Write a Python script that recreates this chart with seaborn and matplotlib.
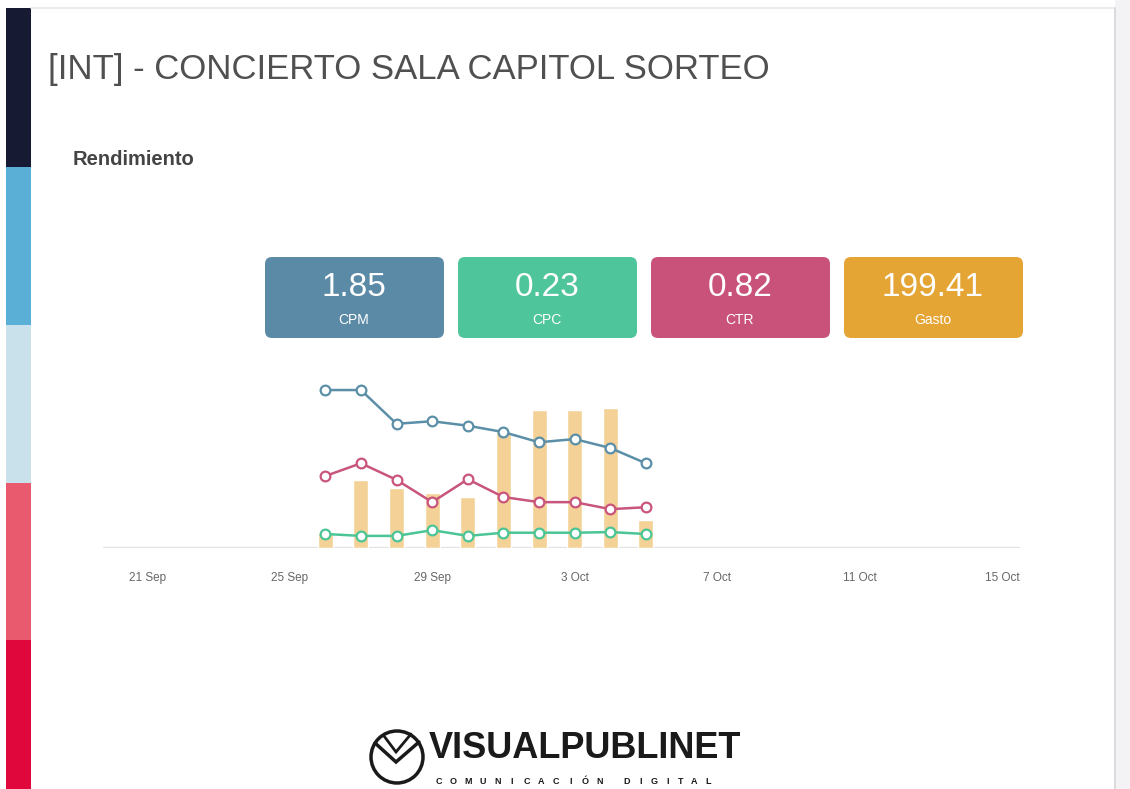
import numpy as np
import matplotlib
matplotlib.use("Agg")
import matplotlib.pyplot as plt
import seaborn as sns
from matplotlib.patches import Rectangle, FancyBboxPatch, Circle

# datos: días desde el 21 Sep
dias = [5, 6, 7, 8, 9, 10, 11, 12, 13, 14]
gasto = [3.7, 16.8, 14.8, 13.6, 12.6, 28.6, 34.0, 34.0, 34.5, 6.9]
cpm = [2.48, 2.48, 1.95, 1.99, 1.92, 1.82, 1.66, 1.71, 1.57, 1.33]
ctr = [1.13, 1.33, 1.07, 0.72, 1.08, 0.80, 0.72, 0.72, 0.61, 0.64]
cpc = [0.22, 0.19, 0.19, 0.28, 0.19, 0.24, 0.24, 0.24, 0.25, 0.22]

tick_dias = [0, 4, 8, 12, 16, 20, 24]
tick_labels = ['21 Sep', '25 Sep', '29 Sep', '3 Oct', '7 Oct', '11 Oct', '15 Oct']

kpi_valores = ['1.85', '0.23', '0.82', '199.41']
kpi_nombres = ['CPM', 'CPC', 'CTR', 'Gasto']
kpi_colores = ['#5b8aa6', '#4fc59b', '#c8527a', '#e5a535']

franjas = ['#171a33', '#5aafd6', '#c9e1ea', '#e95a6e', '#e0073c']

sns.set_style("white")
plt.rcParams['font.family'] = ['Liberation Sans', 'DejaVu Sans']

W, H = 1130, 789
fig = plt.figure(figsize=(11.3, 7.89), dpi=100)
fig.patch.set_facecolor('white')

# fondo en coordenadas de pixel
bg = fig.add_axes([0, 0, 1, 1])
bg.set_xlim(0, W)
bg.set_ylim(H, 0)
bg.axis('off')

# barra lateral de colores
lims = [8, 167, 325, 483, 640, 789]
for i, c in enumerate(franjas):
    bg.add_patch(Rectangle((6, lims[i]), 25, lims[i + 1] - lims[i], color=c, lw=0))

# bordes
bg.plot([31, 1115], [8, 8], color='#e6e8ec', lw=1.2)
bg.add_patch(Rectangle((1115, 0), 15, H, color='#f3f3f5', lw=0))
bg.plot([1115, 1115], [8, H], color='#d6d6d6', lw=1.2)

bg.text(48, 69, '[INT] - CONCIERTO SALA CAPITOL SORTEO', fontsize=25,
        color='#505050', va='center', ha='left')
bg.text(73, 159, 'Rendimiento', fontsize=14.5, fontweight='bold',
        color='#444444', va='center', ha='left')

# tarjetas KPI
x0s = [265, 458, 651, 844]
for x0, v, n, c in zip(x0s, kpi_valores, kpi_nombres, kpi_colores):
    bg.add_patch(FancyBboxPatch((x0 + 5, 262), 169, 71,
                                boxstyle='round,pad=5,rounding_size=7',
                                fc=c, ec='none'))
    bg.text(x0 + 89, 287, v, fontsize=24, color='white', ha='center', va='center')
    bg.text(x0 + 89, 320, n, fontsize=10, color='white', ha='center', va='center')

# logo
bg.add_patch(Circle((397, 757), 26, fill=False, ec='#1a1a1a', lw=2.5))
bg.plot([375, 396, 419], [743, 762, 742], color='#1a1a1a', lw=2.5,
        solid_joinstyle='miter')
bg.plot([384, 396, 411], [736, 752, 734], color='#1a1a1a', lw=2.0,
        solid_joinstyle='miter')
bg.text(429, 749, 'VISUALPUBLINET', fontsize=26, fontweight='bold',
        color='#1a1a1a', ha='left', va='center')
for i, ch in enumerate('COMUNICACIÓN'):
    bg.text(439 + i * 14.6, 781, ch, fontsize=6.5, fontweight='bold',
            color='#1a1a1a', ha='center', va='center')
for i, ch in enumerate('DIGITAL'):
    bg.text(627 + i * 13.5, 781, ch, fontsize=6.5, fontweight='bold',
            color='#1a1a1a', ha='center', va='center')

# gráfico
top_px, base_px = 370, 548
ax = fig.add_axes([103 / W, 1 - base_px / H, (1020 - 103) / W, (base_px - top_px) / H])
ax.set_facecolor('none')
sns.barplot(x=dias, y=gasto, native_scale=True, width=0.42, color='#f3d197',
            saturation=1, ax=ax)
ax.set_ylim(0, (base_px - top_px) * 0.2465)
ax.set_xlim(-1.24, 24.5)
ax.axhline(0, color='#e2e2e2', lw=1.6, zorder=0)

ax2 = ax.twinx()
for serie, color in [(cpm, '#5b8fa8'), (ctr, '#c9557c'), (cpc, '#4cc596')]:
    sns.lineplot(x=dias, y=serie, color=color, lw=1.8, marker='o', markersize=7,
                 markerfacecolor='white', markeredgecolor=color, markeredgewidth=1.6,
                 ax=ax2)
ax2.set_ylim(0, (base_px - top_px) * 0.0157)
ax2.set_xlim(-1.24, 24.5)

for a in (ax, ax2):
    sns.despine(ax=a, left=True, bottom=True, right=True, top=True)
    a.set_yticks([])
    a.set_ylabel('')
ax.set_xticks(tick_dias)
ax.set_xticklabels(tick_labels, fontsize=8.5, color='#666666')
ax.tick_params(axis='x', length=0, pad=17)

fig.savefig('out.png', dpi=100, facecolor='white')
